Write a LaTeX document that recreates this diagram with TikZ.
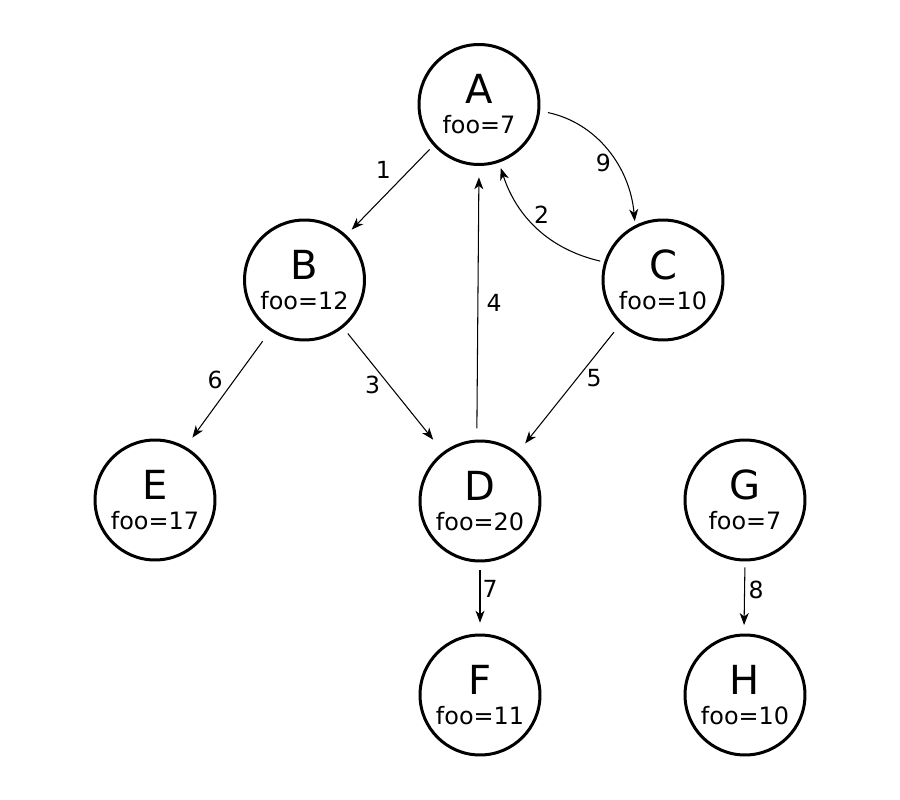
\documentclass[tikz,border=0pt]{standalone}
\usepackage{fontspec}
\setmainfont{DejaVu Sans}
\usetikzlibrary{arrows.meta}
\begin{document}
\begin{tikzpicture}[x=0.02cm,y=-0.02cm,
  vertex/.style={circle,draw,line width=0.06cm,minimum size=2.4cm,inner sep=0pt,
    align=center,font=\fontsize{13.6}{17.07}\selectfont},
  edge/.style={line width=0.6pt,-{Stealth[length=0.24cm,width=0.18cm,inset=0.07cm]}},
  elabel/.style={font=\fontsize{13.4}{16}\selectfont,inner sep=0pt}]
\newcommand\biglet[1]{{\fontsize{22.8}{27}\selectfont #1}}
\path[use as bounding box,fill=white] (0,0) rectangle (900,800);

\node[vertex] (A) at (479,104.5) {\biglet{A}\\foo=7};
\node[vertex] (B) at (304.5,280) {\biglet{B}\\foo=12};
\node[vertex] (C) at (663,280) {\biglet{C}\\foo=10};
\node[vertex] (D) at (480,501) {\biglet{D}\\foo=20};
\node[vertex] (E) at (155,500) {\biglet{E}\\foo=17};
\node[vertex] (G) at (745,500) {\biglet{G}\\foo=7};
\node[vertex] (F) at (480,695) {\biglet{F}\\foo=11};
\node[vertex] (H) at (745,695) {\biglet{H}\\foo=10};

\draw[edge,shorten <=0.108cm,shorten >=0.15cm] (A.222.9) -- (B.47.6);
\draw[edge,shorten <=0.16cm,shorten >=0.08cm] (A.-6) to[out=-12,in=95] (C.117.3);
\draw[edge,shorten <=0.08cm,shorten >=0.114cm] (C.163.8) to[out=167,in=-72] (A.-71.8);
\draw[edge,shorten <=0.226cm,shorten >=0.226cm] (D.93.4) -- (A.-90.5);
\draw[edge,shorten <=0.148cm,shorten >=0.314cm] (B.-51.6) -- (D.127.8);
\draw[edge,shorten <=0.204cm,shorten >=0.234cm] (C.226.1) -- (D.52);
\draw[edge,shorten <=0.254cm,shorten >=0.226cm] (B.236.3) -- (E.60.4);
\draw[edge,shorten <=0.15cm,shorten >=0.216cm] (D.-90) -- (F.90);
\draw[edge,shorten <=0.116cm,shorten >=0.17cm] (G.-90) -- (H.91.4);

\node[elabel] (l1) at (383.3,170) {1};
\node[elabel] (l9) at (603.3,163.3) {9};
\node[elabel] (l2) at (541.7,215) {2};
\node[elabel] (l4) at (494,303) {4};
\node[elabel] (l3) at (372.7,385) {3};
\node[elabel] (l5) at (594,378.3) {5};
\node[elabel] (l6) at (215,380) {6};
\node[elabel] (l7) at (490,589.3) {7};
\node[elabel] (l8) at (756,590) {8};
\end{tikzpicture}
\end{document}
